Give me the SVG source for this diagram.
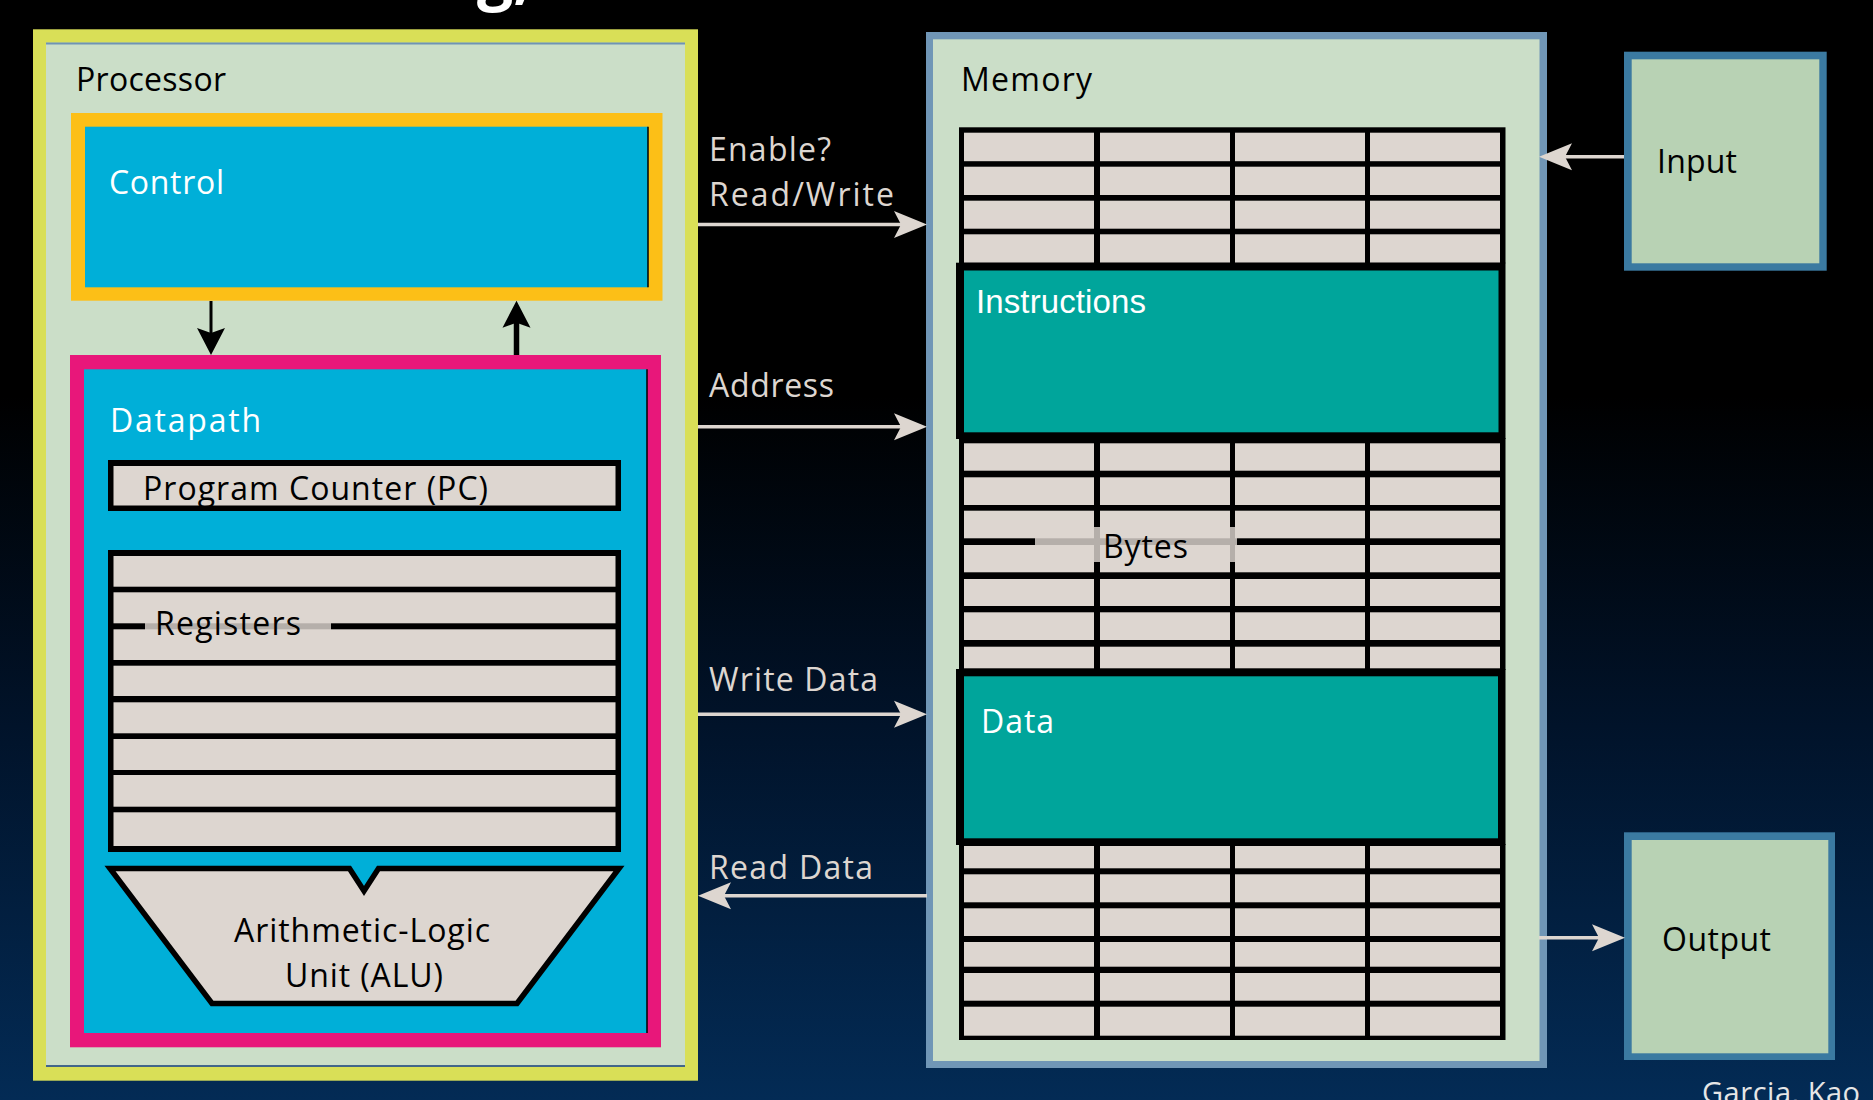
<svg xmlns="http://www.w3.org/2000/svg" xmlns:xlink="http://www.w3.org/1999/xlink" width="1873" height="1100" viewBox="0 0 1873 1100">
<defs>
<linearGradient id="bg" x1="0" y1="0" x2="0" y2="1">
<stop offset="0" stop-color="#000000"/>
<stop offset="0.36" stop-color="#000000"/>
<stop offset="0.66" stop-color="#01132a"/>
<stop offset="1" stop-color="#032b55"/>
</linearGradient>
<marker id="mL" markerUnits="userSpaceOnUse" viewBox="-8 -15 36 30" refX="4" refY="0" markerWidth="36" markerHeight="30" orient="auto" overflow="visible">
<path d="M26,0 L-7,-13.5 L0,0 L-7,13.5 Z" fill="#ddd6d0"/>
</marker>
<marker id="mD" markerUnits="userSpaceOnUse" viewBox="-6 -15 30 30" refX="4" refY="0" markerWidth="30" markerHeight="30" orient="auto" overflow="visible">
<path d="M22,0 L-5,-14 L0,0 L-5,14 Z" fill="#000000"/>
</marker>
<g id="row" class="cell">
<rect x="964" y="0" width="130" height="1"/>
<rect x="1100" y="0" width="130" height="1"/>
<rect x="1235" y="0" width="130" height="1"/>
<rect x="1370" y="0" width="130" height="1"/>
</g>
</defs>
<style>
.t{font-family:"Open Sans","Noto Sans","DejaVu Sans",sans-serif;font-size:32px}
.a{font-family:"Liberation Sans",Arial,sans-serif;font-size:33px}
.dk{fill:#000000}
.wh{fill:#ffffff}
.lt{fill:#ddd6d0}
.cell{fill:#ddd6d0}
.blk{fill:#000000}
.teal{fill:#00a59b}
.conn{stroke:#ddd6d0;stroke-width:3.5;fill:none}
.cdk{stroke:#000000;fill:none}
.veil{fill:#ddd6d0;fill-opacity:0.82}
</style>

<rect x="0" y="0" width="1873" height="1100" fill="url(#bg)"/>

<g id="title-fragment">
<text x="477" y="-3.5" style="font-family:'Open Sans','Noto Sans',sans-serif;font-size:64px;font-weight:bold" fill="#ffffff">g,</text>
</g>

<g id="processor">
<rect x="33" y="29.3" width="665" height="1051.4" fill="#d9df57"/>
<rect x="46" y="42.7" width="639" height="1024" fill="#cbdec8"/>
<line x1="46" y1="43.5" x2="685" y2="43.5" stroke="#6f93b4" stroke-width="2"/>
<line x1="46" y1="1066" x2="685" y2="1066" stroke="#153e7a" stroke-width="1.5"/>
<text class="t dk" x="76" y="91" textLength="150">Processor</text>
</g>

<g id="control">
<rect x="71" y="113" width="591.5" height="187.7" fill="#fcbf17"/>
<rect x="85" y="126.7" width="563" height="160.6" fill="#00afd8"/>
<line x1="648" y1="126.7" x2="648" y2="287.3" stroke="#000" stroke-width="1.5"/>
<text class="t wh" x="109" y="194" textLength="115">Control</text>
</g>

<g id="datapath">
<rect x="70" y="355" width="591" height="692.3" fill="#e8177a"/>
<rect x="84" y="369.3" width="563" height="663.7" fill="#00afd8"/>
<line x1="647" y1="369.3" x2="647" y2="1033" stroke="#000" stroke-width="1.5"/>
<text class="t wh" x="110" y="432" textLength="151">Datapath</text>
</g>

<g id="pc">
<rect x="108" y="460" width="513" height="51" class="blk"/>
<rect x="113.5" y="466" width="502" height="39.5" class="cell"/>
<text class="t dk" x="143" y="500" textLength="345">Program Counter (PC)</text>
</g>

<g id="registers">
<rect x="108" y="550" width="513" height="302" class="blk"/>
<g class="cell">
<rect x="113.5" y="556" width="502" height="30.7"/>
<rect x="113.5" y="592.3" width="502" height="31"/>
<rect x="113.5" y="629.3" width="502" height="30.7"/>
<rect x="113.5" y="665.7" width="502" height="30.3"/>
<rect x="113.5" y="702.3" width="502" height="31"/>
<rect x="113.5" y="739" width="502" height="31"/>
<rect x="113.5" y="775" width="502" height="31.7"/>
<rect x="113.5" y="812.3" width="502" height="33.7"/>
</g>
<rect x="145" y="612" width="186" height="28" class="veil"/>
<text class="t dk" x="155" y="635" textLength="146">Registers</text>
</g>

<g id="alu">
<polygon points="110,868.5 349.5,868.5 364,891 378.5,868.5 619,868.5 517,1003.5 212,1003.5" fill="#ddd6d0" stroke="#000" stroke-width="5.5" stroke-linejoin="miter"/>
<text class="t dk" x="234" y="942" textLength="256">Arithmetic-Logic</text>
<text class="t dk" x="285" y="987" textLength="158">Unit (ALU)</text>
</g>

<g id="memory">
<rect x="926" y="32" width="621" height="1036" fill="#7096b6"/>
<rect x="933" y="39.3" width="606.5" height="1021.7" fill="#cbdec8"/>
<text class="t dk" x="961" y="91" textLength="131">Memory</text>
</g>

<g id="memory-cells">
<rect x="959" y="127.3" width="546.5" height="136" class="blk"/>
<use xlink:href="#row" href="#row" transform="translate(0,132.7) scale(1,28.5)"/>
<use xlink:href="#row" href="#row" transform="translate(0,166.7) scale(1,28.3)"/>
<use xlink:href="#row" href="#row" transform="translate(0,200.7) scale(1,28)"/>
<use xlink:href="#row" href="#row" transform="translate(0,234.3) scale(1,28.4)"/>
<rect x="959" y="438" width="546.5" height="232" class="blk"/>
<use xlink:href="#row" href="#row" transform="translate(0,443.3) scale(1,27.4)"/>
<use xlink:href="#row" href="#row" transform="translate(0,477.3) scale(1,27.7)"/>
<use xlink:href="#row" href="#row" transform="translate(0,510.7) scale(1,27.6)"/>
<use xlink:href="#row" href="#row" transform="translate(0,545) scale(1,27.3)"/>
<use xlink:href="#row" href="#row" transform="translate(0,579) scale(1,27)"/>
<use xlink:href="#row" href="#row" transform="translate(0,612.3) scale(1,27.7)"/>
<use xlink:href="#row" href="#row" transform="translate(0,646.7) scale(1,21.6)"/>
<rect x="959" y="844" width="546.5" height="196" class="blk"/>
<use xlink:href="#row" href="#row" transform="translate(0,846) scale(1,22.3)"/>
<use xlink:href="#row" href="#row" transform="translate(0,874.3) scale(1,28)"/>
<use xlink:href="#row" href="#row" transform="translate(0,908.3) scale(1,27.7)"/>
<use xlink:href="#row" href="#row" transform="translate(0,942) scale(1,24.7)"/>
<use xlink:href="#row" href="#row" transform="translate(0,973) scale(1,27.7)"/>
<use xlink:href="#row" href="#row" transform="translate(0,1006.7) scale(1,29)"/>
<rect x="1035" y="527" width="202" height="35" class="veil"/>
<text class="t dk" x="1103" y="558" textLength="85">Bytes</text>
</g>

<g id="instructions">
<rect x="956" y="262.7" width="549.5" height="176.3" class="blk"/>
<rect x="964" y="270.5" width="534.5" height="161.8" class="teal"/>
<text class="a wh" x="976" y="313" textLength="170">Instructions</text>
</g>

<g id="data">
<rect x="956" y="669" width="549.5" height="176" class="blk"/>
<rect x="964" y="676.3" width="534" height="162" class="teal"/>
<text class="t wh" x="981" y="733" textLength="73">Data</text>
</g>

<g id="input">
<rect x="1624" y="51.7" width="202.7" height="219" fill="#3b7aa1"/>
<rect x="1631.7" y="59.3" width="187.6" height="204" fill="#b8d2b4"/>
<text class="t dk" x="1657" y="173" textLength="80">Input</text>
</g>

<g id="output">
<rect x="1624" y="832.3" width="211" height="227.7" fill="#3b7aa1"/>
<rect x="1631.7" y="840" width="196.6" height="213.3" fill="#b8d2b4"/>
<text class="t dk" x="1662" y="951" textLength="109">Output</text>
</g>

<g id="connectors">
<line class="cdk" x1="211" y1="301" x2="211" y2="337" stroke-width="3" marker-end="url(#mD)"/>
<line class="cdk" x1="516.5" y1="355" x2="516.5" y2="318.7" stroke-width="5.5" marker-end="url(#mD)"/>
<line class="conn" x1="698" y1="224.5" x2="905" y2="224.5" marker-end="url(#mL)"/>
<line class="conn" x1="698" y1="426.7" x2="905" y2="426.7" marker-end="url(#mL)"/>
<line class="conn" x1="698" y1="714.3" x2="905" y2="714.3" marker-end="url(#mL)"/>
<line class="conn" x1="927" y1="895.7" x2="720" y2="895.7" marker-end="url(#mL)"/>
<line class="conn" x1="1624" y1="156.7" x2="1561" y2="156.7" marker-end="url(#mL)"/>
<line class="conn" x1="1539" y1="937.7" x2="1603" y2="937.7" marker-end="url(#mL)"/>
</g>

<g id="labels">
<text class="t lt" x="709" y="161" textLength="122">Enable?</text>
<text class="t lt" x="709" y="206" textLength="185">Read/Write</text>
<text class="t lt" x="709" y="397" textLength="125">Address</text>
<text class="t lt" x="709" y="691" textLength="169">Write Data</text>
<text class="t lt" x="709" y="879" textLength="164">Read Data</text>
</g>

<g id="credit">
<text class="t" x="1702" y="1103" style="font-size:29px" fill="#e6e6e6" textLength="158">Garcia, Kao</text>
</g>
</svg>
